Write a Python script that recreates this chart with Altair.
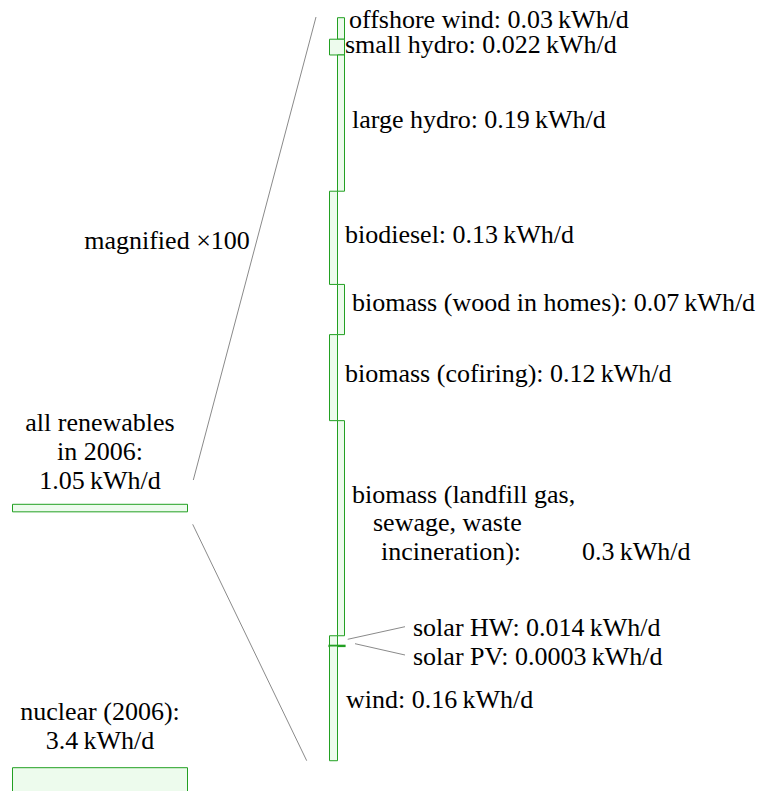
import altair as alt
import pandas as pd
from itertools import accumulate

# ---------------- data ----------------
sources = [
    "offshore wind", "small hydro", "large hydro", "biodiesel",
    "biomass (wood in homes)", "biomass (cofiring)",
    "biomass (landfill gas, sewage, waste incineration)",
    "solar HW", "solar PV", "wind",
]
values = [0.03, 0.022, 0.19, 0.13, 0.07, 0.12, 0.3, 0.014, 0.0003, 0.16]  # kWh/d per person
value_labels = ["0.03", "0.022", "0.19", "0.13", "0.07", "0.12", "0.3", "0.014", "0.0003", "0.16"]

total_names = ["all renewables in 2006", "nuclear (2006)"]
total_values = [1.05, 3.4]
total_labels = ["1.05", "3.4"]
MAGNIFY = 100

# ---------------- layout (plot-pixel positions, styles) ----------------
M = 8                      # page margin
W, H = 748, 800
PX_PER_UNIT = 717.0        # pixels per kWh/d in the magnified column
COL_TOP = 17.7 - M
columns = ["R", "W", "R", "L", "R", "L", "R", "L", "W", "L"]
col_x = {"L": (329.5 - M, 337.5 - M), "R": (337.5 - M, 344.5 - M), "W": (329.5 - M, 344.5 - M)}
stroke_w = [1, 1, 1, 1, 1, 1, 1, 1, 2.2, 1]
total_x = (12.5 - M, 187.5 - M)
total_top_px = [504.3 - M, 767.7 - M]

GREEN = "#22a022"
FILL = "#edfbed"
GRAY = "#8a8a8a"
FONT = "Liberation Serif"
FS = 26
TS = "\u2009"

def px_to_unit(p):
    return (p - COL_TOP) / PX_PER_UNIT

ends = list(accumulate(values))
starts = [0.0] + ends[:-1]

rects = pd.DataFrame({
    "name": sources + total_names,
    "y0": starts + [px_to_unit(p) for p in total_top_px],
    "y1": ends + [px_to_unit(p) + v / MAGNIFY for p, v in zip(total_top_px, total_values)],
    "x0": [col_x[c][0] for c in columns] + [total_x[0]] * 2,
    "x1": [col_x[c][1] for c in columns] + [total_x[1]] * 2,
    "sw": stroke_w + [1, 1],
})

y_scale = alt.Scale(domain=[px_to_unit(0), px_to_unit(H)], reverse=True, zero=False, nice=False)

rect_layer = alt.Chart(rects).mark_rect(fill=FILL, stroke=GREEN).encode(
    x=alt.X("x0:Q", scale=None, axis=None),
    x2="x1:Q",
    y=alt.Y("y0:Q", scale=y_scale, axis=None),
    y2="y1:Q",
    strokeWidth=alt.StrokeWidth("sw:Q", scale=None, legend=None),
)

u = lambda i: f"{value_labels[i]}{TS}kWh/d"
left_labels = pd.DataFrame([
    (f"offshore wind: {u(0)}", 349, 28),
    (f"small hydro: {u(1)}", 345, 53),
    (f"large hydro: {u(2)}", 352, 128),
    (f"biodiesel: {u(3)}", 345, 243),
    (f"biomass (wood in homes): {u(4)}", 352, 311),
    (f"biomass (cofiring): {u(5)}", 345, 382),
    ("biomass (landfill gas,", 352, 503),
    ("sewage, waste", 373, 531),
    ("incineration):", 381, 560),
    (u(6), 582, 560),
    (f"solar HW: {u(7)}", 413, 636),
    (f"solar PV: {u(8)}", 413, 665),
    (f"wind: {u(9)}", 346, 708),
], columns=["t", "x", "y"])
left_labels["x"] -= M
left_labels["y"] -= M

center_labels = pd.DataFrame([
    ("magnified \u00d7100", 167, 249),
    ("all renewables", 100, 431),
    ("in 2006:", 100, 460),
    (f"{total_labels[0]}{TS}kWh/d", 100, 489),
    ("nuclear (2006):", 100, 720),
    (f"{total_labels[1]}{TS}kWh/d", 100, 749),
], columns=["t", "x", "y"])
center_labels["x"] -= M
center_labels["y"] -= M

def text_layer(df, align):
    return alt.Chart(df).mark_text(
        align=align, baseline="alphabetic", font=FONT, fontSize=FS, color="black"
    ).encode(
        x=alt.X("x:Q", scale=None, axis=None),
        y=alt.Y("y:Q", scale=None, axis=None),
        text="t:N",
    )

lines = pd.DataFrame([
    (316, 17, 193.3, 480),
    (192.7, 524.3, 306.7, 760.7),
    (347.7, 639.3, 405, 626.7),
    (355, 643.7, 405, 655),
], columns=["xa", "ya", "xb", "yb"])
for c in ["xa", "xb", "ya", "yb"]:
    lines[c] -= M

line_layer = alt.Chart(lines).mark_rule(color=GRAY, strokeWidth=1).encode(
    x=alt.X("xa:Q", scale=None, axis=None),
    y=alt.Y("ya:Q", scale=None, axis=None),
    x2="xb:Q",
    y2="yb:Q",
)

chart = alt.layer(
    line_layer, rect_layer, text_layer(left_labels, "left"), text_layer(center_labels, "center")
).resolve_scale(x="independent", y="independent").properties(
    width=W, height=H, padding=0, autosize=alt.AutoSizeParams(type="none"), background="white"
).configure_view(stroke=None)

chart.save("out.html", embed_options={"renderer": "svg", "actions": False})
